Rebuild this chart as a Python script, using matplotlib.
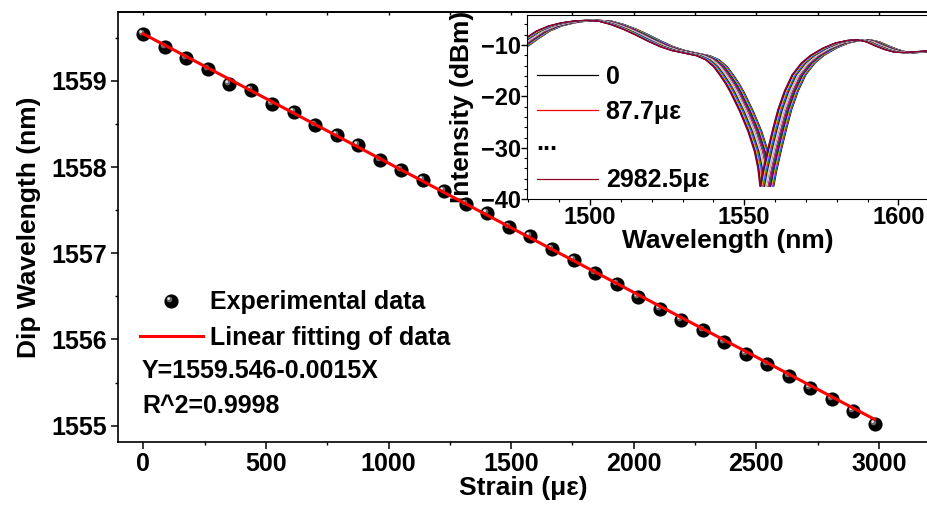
import matplotlib
matplotlib.use('Agg')
import matplotlib.pyplot as plt
import numpy as np
from matplotlib.path import Path
from matplotlib.lines import Line2D
from matplotlib.ticker import MultipleLocator

plt.rcParams['font.family'] = ['Liberation Sans', 'DejaVu Sans']
plt.rcParams['font.weight'] = 'bold'
plt.rcParams['axes.labelweight'] = 'bold'

# strain steps (micro-strain) and measured dip wavelength (nm)
strain = [0, 87.7, 175.5, 263.2, 350.9, 438.6, 526.3, 614.0, 701.8, 789.5,
          877.2, 964.9, 1052.6, 1140.4, 1228.1, 1315.8, 1403.5, 1491.2, 1578.9,
          1666.7, 1754.4, 1842.1, 1929.8, 2017.5, 2105.3, 2193.0, 2280.7,
          2368.4, 2456.1, 2543.9, 2631.6, 2719.3, 2807.0, 2894.7, 2982.5]
dip_wl = [1559.549, 1559.394, 1559.267, 1559.136, 1558.970, 1558.900, 1558.738,
          1558.634, 1558.483, 1558.371, 1558.255, 1558.081, 1557.970, 1557.855,
          1557.725, 1557.572, 1557.463, 1557.300, 1557.197, 1557.045, 1556.920,
          1556.768, 1556.645, 1556.498, 1556.356, 1556.228, 1556.112, 1555.970,
          1555.827, 1555.719, 1555.576, 1555.440, 1555.310, 1555.170, 1555.016]
fit_intercept = 1559.546
fit_slope = -0.0015
r_squared = 0.9998

# transmission spectrum at zero strain (inset)
spec_wl = [1475, 1480, 1483, 1487, 1491, 1495, 1499, 1503, 1507, 1511, 1515,
           1519, 1523, 1527, 1531, 1535, 1539, 1542, 1544.5, 1546.5, 1548.5,
           1550, 1553, 1555.7, 1557.8, 1558.9, 1559.6, 1560.5, 1562.2, 1563.8,
           1565.4, 1567.5, 1570, 1573, 1576, 1580, 1584, 1588, 1591, 1594,
           1597, 1600, 1603, 1606, 1610, 1615]
spec_db = [-11.8, -10.2, -8.9, -7.3, -6.3, -5.7, -5.35, -5.2, -5.35, -6.0, -6.9,
           -8.0, -9.2, -10.3, -11.1, -11.6, -12.1, -12.9, -14.2, -15.8, -17.6,
           -19.2, -22.9, -26.8, -30.7, -33.9, -37.5, -34.6, -30.1, -26.2,
           -22.6, -19.0, -15.8, -13.5, -12.0, -10.6, -9.6, -9.1, -9.0, -9.4,
           -10.2, -10.9, -11.4, -11.5, -11.3, -11.1]
inset_labels = ['0', '87.7\u03bc\u03b5', ' ', '2982.5\u03bc\u03b5']

origin_colors = ['#000000', '#ff0000', '#00ff00', '#0000ff', '#00ffff', '#ff00ff',
                 '#ffff00', '#808000', '#000080', '#800080', '#900020', '#008000',
                 '#008080', '#0000a0', '#ff8000', '#8000ff', '#ff0080', '#ffffff',
                 '#c0c0c0', '#808080', '#ffff80', '#80ffff', '#ff80ff', '#404040']

fig = plt.figure(figsize=(9.28, 5.08), dpi=100)
ax = fig.add_axes([0.1272, 0.1299, 0.8728, 0.8465])
ax.set_zorder(3)
ax.patch.set_visible(False)

# shaded "ball" markers
ball_ms = 10.2
halo = Path.circle((-0.14, 0.14), 0.2)
spot = Path.circle((-0.2, 0.2), 0.09)
balls = ax.plot(strain, dip_wl, 'o', color='black', ms=ball_ms, mew=0, zorder=2)[0]
halos = ax.plot(strain, dip_wl, ls='none', marker=halo, color='#6a6a6a',
                ms=ball_ms * 0.34 / 0.5, mew=0, zorder=2)[0]
spots = ax.plot(strain, dip_wl, ls='none', marker=spot, color='#f0f0f0',
                ms=ball_ms * 0.29 / 0.5, mew=0, zorder=2)[0]

fit_x = np.array([strain[0], strain[-1]])
fit_line = ax.plot(fit_x, fit_intercept + fit_slope * fit_x, color='red', lw=2.2,
                   zorder=3)[0]

ax.set_xlim(-103, 3200)
ax.set_ylim(1554.81, 1559.80)
ax.xaxis.set_major_locator(MultipleLocator(500))
ax.xaxis.set_minor_locator(MultipleLocator(250))
ax.yaxis.set_major_locator(MultipleLocator(1))
ax.yaxis.set_minor_locator(MultipleLocator(0.5))
ax.tick_params(which='major', direction='out', length=5, width=1.1, labelsize=18)
ax.tick_params(which='minor', direction='out', length=2.5, width=1.0)
ax.tick_params(axis='x', which='major', pad=2.5)
ax.tick_params(axis='y', which='major', pad=3)
ax.spines['right'].set_visible(False)
for s in ['left', 'bottom', 'top']:
    ax.spines[s].set_linewidth(1.2)
ax.set_xlabel('Strain (\u03bc\u03b5)', fontsize=19, labelpad=0)
ax.set_ylabel('Dip Wavelength (nm)', fontsize=19, labelpad=7)

# small inward ticks along the top edge
top = ax.secondary_xaxis('top')
top.xaxis.set_major_locator(MultipleLocator(250))
top.tick_params(direction='in', length=2.5, width=1.0, labeltop=False)
top.spines['top'].set_linewidth(1.2)

ax.legend([(balls, halos, spots), fit_line],
          ['Experimental data', 'Linear fitting of data'],
          loc='upper left', bbox_to_anchor=(140 / 928, 1 - 290.5 / 508),
          bbox_transform=fig.transFigure, frameon=False, fontsize=18,
          borderpad=0, borderaxespad=0, handlelength=2.52, handletextpad=0.28,
          labelspacing=0.46)
fig.text(142 / 928, 1 - 378.3 / 508,
         'Y={:.3f}-{:.4f}X'.format(fit_intercept, abs(fit_slope)),
         fontsize=18, va='baseline', ha='left')
fig.text(142 / 928, 1 - 413.3 / 508, 'R^2={}'.format(r_squared),
         fontsize=18, va='baseline', ha='left')

# inset: spectra for every strain step, shifted with the dip
ax_in = fig.add_axes([0.5682, 0.6077, 0.4318, 0.3628])
ax_in.set_zorder(1)
for k in range(len(strain)):
    shift = dip_wl[k] - dip_wl[0]
    ax_in.plot(np.array(spec_wl) + shift, spec_db,
               color=origin_colors[k % len(origin_colors)], lw=0.8)

ax_in.set_xlim(1479.66, 1609.6)
ax_in.set_ylim(-40, -4.17)
ax_in.xaxis.set_major_locator(MultipleLocator(50))
ax_in.xaxis.set_minor_locator(MultipleLocator(10))
ax_in.yaxis.set_major_locator(MultipleLocator(10))
ax_in.yaxis.set_minor_locator(MultipleLocator(2))
ax_in.tick_params(which='major', direction='out', length=4, width=1.0,
                  labelsize=17, pad=0.5)
ax_in.tick_params(which='minor', direction='out', length=2, width=0.8)
ax_in.spines['right'].set_visible(False)
ax_in.set_xlabel('Wavelength (nm)', fontsize=19, labelpad=0)
ax_in.set_ylabel('Intensity (dBm)', fontsize=19, labelpad=5)

in_handles = [Line2D([], [], color=origin_colors[0], lw=0.9),
              Line2D([], [], color=origin_colors[1], lw=0.9),
              Line2D([], [], color='none'),
              Line2D([], [], color=origin_colors[(len(strain) - 1) % len(origin_colors)], lw=0.9)]
ax_in.legend(in_handles, inset_labels, loc='upper left',
             bbox_to_anchor=(536.7 / 928, 1 - 65 / 508),
             bbox_transform=fig.transFigure, frameon=False, fontsize=18,
             borderpad=0, borderaxespad=0, handlelength=2.46,
             handletextpad=0.3, labelspacing=0.42)
# the "..." entry sits under the line samples
fig.text(536.7 / 928, 1 - 150 / 508, '...', fontsize=18, va='baseline', ha='left')

fig.savefig('out.png', dpi=100)
